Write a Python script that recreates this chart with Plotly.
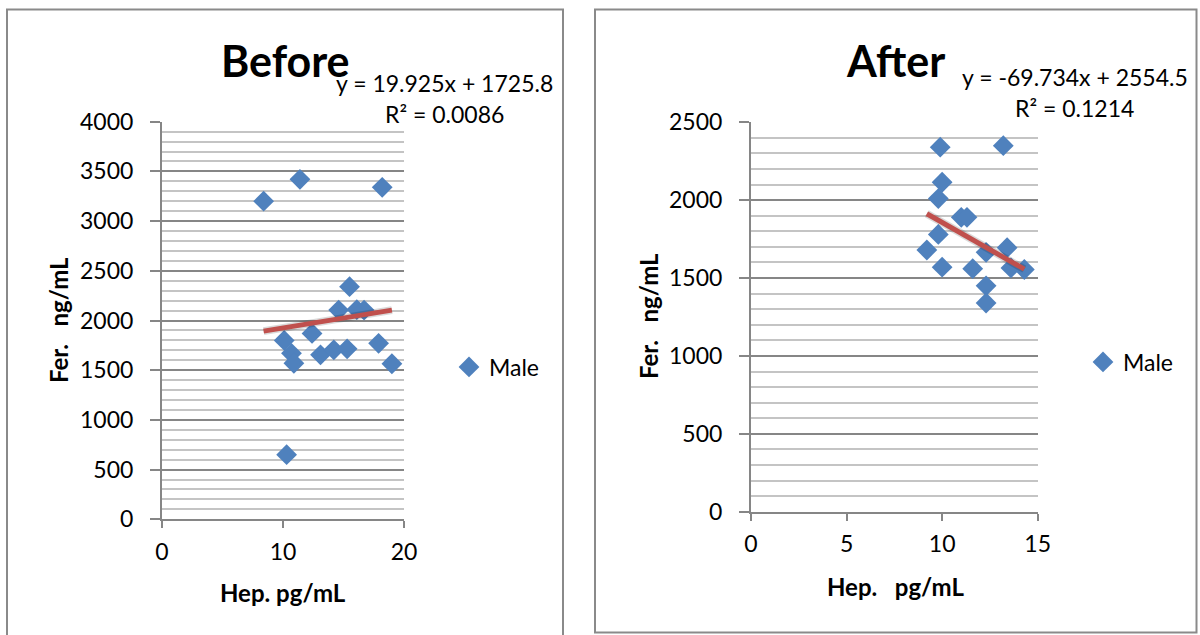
import plotly.graph_objects as go

# Hepcidin (pg/mL) vs ferritin (ng/mL), male group, before and after
before_hep = [8.4, 11.4, 18.2, 15.5, 14.6, 16.1, 16.7, 12.4, 10.1, 10.7, 10.9, 13.1, 14.2, 15.3, 17.9, 19.0, 10.3]
before_fer = [3200, 3420, 3340, 2340, 2105, 2110, 2105, 1870, 1800, 1670, 1570, 1655, 1705, 1715, 1770, 1565, 650]
after_hep = [9.9, 13.2, 10.0, 9.8, 11.0, 11.3, 9.8, 9.2, 10.0, 11.6, 12.3, 13.4, 13.6, 14.3, 12.3, 12.3]
after_fer = [2340, 2350, 2115, 2010, 1890, 1890, 1780, 1680, 1570, 1560, 1665, 1695, 1565, 1555, 1450, 1340]

# Linear trend coefficients (slope, intercept) and R squared
before_fit = (19.925, 1725.8, 0.0086)
after_fit = (-69.734, 2554.5, 0.1214)

series_name = "Male"
x_title_before = "Hep. pg/mL"
x_title_after = "Hep.   pg/mL"
y_title = "Fer.   ng/mL"

W, H = 1200, 635
FONT = "Lato"
BLUE = "#4F81BD"
RED = "#C0504D"
TXT = 23


def px(x):
    return x / W


def py(y):
    return 1 - y / H


def trend(xs, fit):
    lo, hi = min(xs), max(xs)
    return [lo, hi], [fit[0] * lo + fit[1], fit[0] * hi + fit[1]]


def eq_text(fit):
    m, b, r2 = fit
    sign = "+" if b >= 0 else "-"
    return f"y = {m:g}x {sign} {abs(b):g}", f"R² = {r2:.4f}"


fig = go.Figure()

panels = [
    dict(xs=before_hep, ys=before_fer, fit=before_fit, xa="x", ya="y", legend="legend"),
    dict(xs=after_hep, ys=after_fer, fit=after_fit, xa="x2", ya="y2", legend="legend2"),
]

for p in panels:
    tx, ty = trend(p["xs"], p["fit"])
    fig.add_trace(go.Scatter(
        x=p["xs"], y=p["ys"], mode="markers", name=series_name,
        marker=dict(symbol="diamond", size=16, color=BLUE),
        xaxis=p["xa"], yaxis=p["ya"], legend=p["legend"], showlegend=True,
    ))
    # soft shadow under the trend line
    fig.add_trace(go.Scatter(
        x=tx, y=ty, mode="lines", line=dict(color="rgba(0,0,0,0.15)", width=8),
        xaxis=p["xa"], yaxis=p["ya"], showlegend=False, hoverinfo="skip",
    ))
    fig.add_trace(go.Scatter(
        x=tx, y=ty, mode="lines", line=dict(color=RED, width=5),
        xaxis=p["xa"], yaxis=p["ya"], showlegend=False,
    ))

axis_common = dict(
    showline=True, linecolor="#868686", linewidth=2,
    ticks="outside", tickcolor="#868686", tickwidth=2,
    tickfont=dict(family=FONT, size=TXT, color="#000000"),
    zeroline=False, automargin=False,
)

fig.update_layout(
    width=W, height=H,
    margin=dict(l=0, r=0, t=0, b=0, autoexpand=False),
    paper_bgcolor="white", plot_bgcolor="white",
    font=dict(family=FONT, color="#000000"),
    xaxis=dict(domain=[px(162), px(404)], range=[0, 20], dtick=10, showgrid=False,
               ticklen=7, ticklabelstandoff=4, anchor="y", **axis_common),
    yaxis=dict(domain=[py(519.3), py(121.7)], range=[0, 4000], dtick=500,
               showgrid=True, gridcolor="#868686", gridwidth=1.5, ticklen=10,
               ticklabelstandoff=12,
               minor=dict(dtick=100, showgrid=True, gridcolor="#c4c4c4", gridwidth=1.5),
               anchor="x", **axis_common),
    xaxis2=dict(domain=[px(751), px(1037.7)], range=[0, 15], dtick=5, showgrid=False,
                ticklen=7, ticklabelstandoff=4, anchor="y2", **axis_common),
    yaxis2=dict(domain=[py(511.7), py(122.3)], range=[0, 2500], dtick=500,
                showgrid=True, gridcolor="#868686", gridwidth=1.5, ticklen=10,
                ticklabelstandoff=12,
                minor=dict(dtick=100, showgrid=True, gridcolor="#c4c4c4", gridwidth=1.5),
                anchor="x2", **axis_common),
    legend=dict(x=px(449), y=py(367), xanchor="left", yanchor="middle",
                font=dict(family=FONT, size=TXT), bgcolor="rgba(0,0,0,0)",
                itemwidth=30, tracegroupgap=0),
    legend2=dict(x=px(1083), y=py(362), xanchor="left", yanchor="middle",
                 font=dict(family=FONT, size=TXT), bgcolor="rgba(0,0,0,0)",
                 itemwidth=30, tracegroupgap=0),
    showlegend=True,
)

# chart frames
fig.add_shape(type="rect", xref="paper", yref="paper",
              x0=px(7), x1=px(563), y0=-0.05, y1=py(9.5),
              line=dict(color="#8a8a8a", width=2), layer="below")
fig.add_shape(type="rect", xref="paper", yref="paper",
              x0=px(595), x1=px(1196.5), y0=py(632.5), y1=py(9.5),
              line=dict(color="#8a8a8a", width=2), layer="below")


def note(text, x, y, size, bold=False, angle=0):
    fig.add_annotation(
        text=f"<b>{text}</b>" if bold else text,
        x=px(x), y=py(y), xref="paper", yref="paper",
        xanchor="center", yanchor="middle", showarrow=False, textangle=angle,
        font=dict(family=FONT, size=size, color="#000000"),
    )


note("Before", 285, 60, 43, bold=True)
note("After", 895, 60, 43, bold=True)

l1, l2 = eq_text(before_fit)
note(l1, 444, 83, TXT)
note(l2, 444, 114, TXT)
r1, r2 = eq_text(after_fit)
note(r1, 1075, 77, TXT)
note(r2, 1074, 108, TXT)

note(x_title_before, 283, 592, 24, bold=True)
note(x_title_after, 895, 586, 24, bold=True)
note(y_title, 58, 320, 24, bold=True, angle=-90)
note(y_title, 648, 316, 24, bold=True, angle=-90)

fig.write_html("out.html")
